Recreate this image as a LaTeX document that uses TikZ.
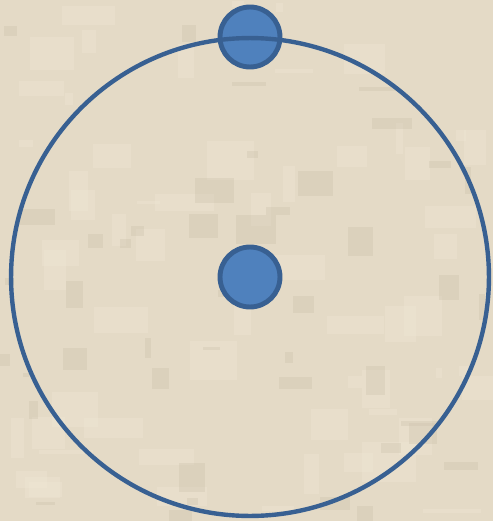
\documentclass[tikz,border=0pt]{standalone}
\usepackage{tikz}
\usetikzlibrary{shapes,positioning}
\usepackage{xcolor}
\definecolor{papyrus}{RGB}{228,218,198}
\definecolor{papyruslight}{RGB}{240,232,214}
\definecolor{papyrusdark}{RGB}{205,194,172}
\definecolor{dotblue}{RGB}{79,129,189}
\definecolor{edgeblue}{RGB}{56,96,146}

\begin{document}
\begin{tikzpicture}[
    x=0.02cm, y=-0.02cm,
    dot/.style={circle, draw=edgeblue, fill=dotblue, line width=2.8pt,
                minimum size=1.2cm, inner sep=0pt},
    orbit/.style={circle, draw=edgeblue, line width=2.5pt,
                  minimum size=9.56cm, inner sep=0pt},
    grain/.style={opacity=0.35}
]

% Background
\fill[papyrus] (0, 0) rectangle (493, 521);
\useasboundingbox (0, 0) rectangle (493, 521);

% Paper texture
\pgfmathsetseed{7}
\foreach \i in {1,...,60} {
    \pgfmathsetmacro{\px}{int(random(0,480))}
    \pgfmathsetmacro{\py}{int(random(0,510))}
    \pgfmathsetmacro{\pw}{int(random(4,60))}
    \pgfmathsetmacro{\ph}{int(random(3,40))}
    \fill[papyruslight, grain] (\px, \py) rectangle ++(\pw, \ph);
}
\foreach \i in {1,...,45} {
    \pgfmathsetmacro{\px}{int(random(0,480))}
    \pgfmathsetmacro{\py}{int(random(0,510))}
    \pgfmathsetmacro{\pw}{int(random(3,40))}
    \pgfmathsetmacro{\ph}{int(random(3,30))}
    \fill[papyrusdark, grain] (\px, \py) rectangle ++(\pw, \ph);
}

% Dot on the rim
\node[dot] (rim) at (250, 37) {};

% Big circle
\node[orbit] (ring) at (250, 277) {};

% Centre dot
\node[dot] (hub) at (ring.center) {};

\end{tikzpicture}
\end{document}
